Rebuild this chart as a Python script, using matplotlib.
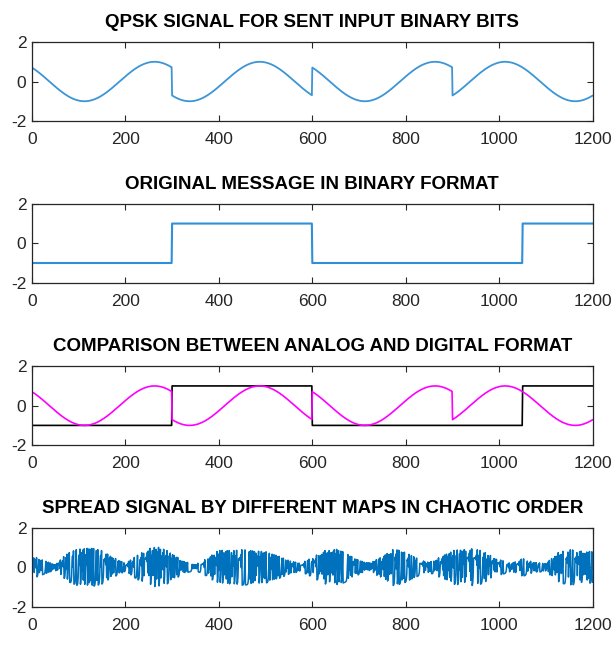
import numpy as np
import matplotlib
matplotlib.use('Agg')
import matplotlib.pyplot as plt

# Values.
n_samples = 1200
symbol_len = 300                       # samples per QPSK symbol
carrier_period = 300                   # one carrier cycle per symbol
symbol_phases = [np.pi / 4, 3 * np.pi / 4, np.pi / 4, -3 * np.pi / 4]

bit_len = 150                          # samples per message level
message_bits = [0, 0, 1, 1, 0, 0, 0, 1]

# Envelope of the spread signal, read every 25 samples.
env_x = np.arange(0, 1201, 25)
env_y = [0.6, 0.35, 0.15, 0.7, 0.95, 1.0, 0.85, 0.5, 0.2, 0.6,
         1.0, 1.05, 0.7, 0.3, 0.15, 0.45, 0.9, 0.85, 0.9, 0.85,
         0.8, 0.6, 0.35, 0.2, 0.5, 0.85, 0.95, 0.7, 0.35, 0.25,
         0.55, 0.95, 0.75, 0.45, 0.25, 0.55, 0.85, 0.95, 0.95, 0.7,
         0.4, 0.2, 0.45, 0.25, 0.2, 0.75, 0.9, 0.85, 0.8]
logistic_r = 4.0
logistic_x0 = 0.2718

titles = ['QPSK SIGNAL FOR SENT INPUT BINARY BITS',
          'ORIGINAL MESSAGE IN BINARY FORMAT',
          'COMPARISON BETWEEN ANALOG AND DIGITAL FORMAT',
          'SPREAD SIGNAL BY DIFFERENT MAPS IN CHAOTIC ORDER']
xticks = [0, 200, 400, 600, 800, 1000, 1200]
yticks = [-2, 0, 2]

# Build signals.
t = np.arange(n_samples)
phase = np.repeat(symbol_phases, symbol_len)
qpsk = np.cos(2 * np.pi * t / carrier_period + phase)
msg = 2 * np.repeat(message_bits, bit_len) - 1.0

chaos = np.empty(n_samples)
x = logistic_x0
for i in range(n_samples):
    x = logistic_r * x * (1 - x)
    chaos[i] = 2 * x - 1
spread = np.interp(t, env_x, env_y) * chaos

plt.rcParams['font.family'] = ['Liberation Sans', 'DejaVu Sans']
plt.rcParams['axes.unicode_minus'] = False
fig = plt.figure(figsize=(6.13, 6.47), dpi=100)

bottoms = [0.813, 0.563, 0.312, 0.062]
axes = [fig.add_axes([0.052, b, 0.915, 0.122]) for b in bottoms]

axes[0].plot(t, qpsk, color='#3b95d6', lw=1.3)
axes[1].plot(t, msg, color='#2f8fd8', lw=1.5)
axes[2].plot(t, msg, color='black', lw=1.2)
axes[2].plot(t, qpsk, color='#ff00ff', lw=1.2)
axes[3].plot(t, spread, color='#0072BD', lw=1.1)

for ax, title in zip(axes, titles):
    ax.set_xlim(0, 1200)
    ax.set_ylim(-2, 2)
    ax.set_xticks(xticks)
    ax.set_yticks(yticks)
    ax.tick_params(direction='in', top=True, right=True, length=4,
                   labelsize=12.5, colors='#262626', width=0.8)
    ax.tick_params(axis='x', pad=8)
    ax.tick_params(axis='y', pad=4)
    for s in ax.spines.values():
        s.set_color('#262626')
        s.set_linewidth(0.9)
    ax.set_title(title, fontsize=13.5, fontweight='bold', pad=11)

fig.savefig('out.png', dpi=100)
